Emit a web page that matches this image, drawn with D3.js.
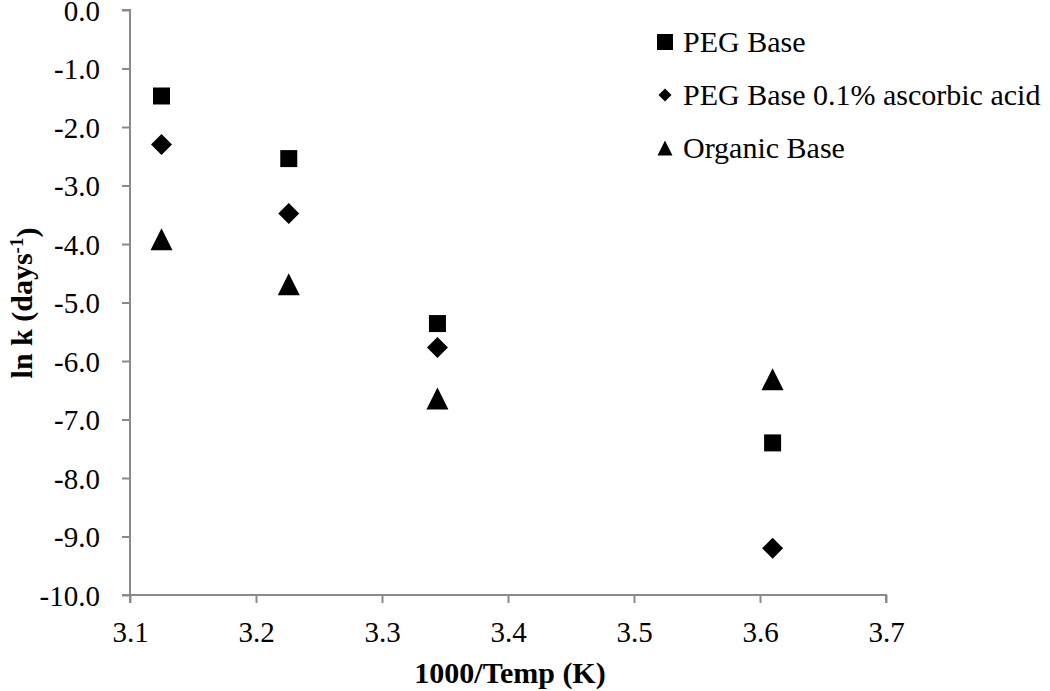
<!DOCTYPE html>
<html>
<head>
<meta charset="utf-8">
<script src="https://d3js.org/d3.v7.min.js"></script>
<style>
  body { margin:0; background:#fff; }
</style>
</head>
<body>
<svg id="chart" width="1050" height="691"></svg>
<script>
// data
var invTemp = [3.125, 3.226, 3.344, 3.610];
var pegBase = [-1.47, -2.54, -5.36, -7.40];
var pegAscorbic = [-2.30, -3.48, -5.77, -9.20];
var organicBase = [-3.92, -4.69, -6.64, -6.31];
var seriesNames = ["PEG Base", "PEG Base 0.1% ascorbic acid", "Organic Base"];
var xTicks = [3.1, 3.2, 3.3, 3.4, 3.5, 3.6, 3.7];
var yTicks = [0, -1, -2, -3, -4, -5, -6, -7, -8, -9, -10];

var svg = d3.select("#chart");
var x = d3.scaleLinear().domain([3.1, 3.7]).range([130, 886]);
var y = d3.scaleLinear().domain([-10, 0]).range([595, 10]);
var axisColor = "#8a8a8a";
var serif = "Liberation Serif";
var fmt = function(d) { return d.toFixed(1); };

// marker shapes centred on their box
function shape(type, s) {
  var h = s / 2;
  if (type == "square") return "M" + (-h) + "," + (-h) + "h" + s + "v" + s + "h" + (-s) + "Z";
  if (type == "diamond") return "M0," + (-h) + "L" + h + ",0L0," + h + "L" + (-h) + ",0Z";
  return "M0," + (-h) + "L" + h + "," + h + "L" + (-h) + "," + h + "Z";
}
var types = ["square", "diamond", "triangle"];
var sizes = [17, 21, 22];
var legendSizes = [16, 13, 15];

// y axis
var yAxis = svg.append("g").attr("transform", "translate(130,0)")
  .call(d3.axisLeft(y).tickValues(yTicks).tickSize(8).tickPadding(22).tickFormat(fmt));
// x axis
var xAxis = svg.append("g").attr("transform", "translate(0,595)")
  .call(d3.axisBottom(x).tickValues(xTicks).tickSize(8).tickPadding(19).tickFormat(fmt));

[xAxis, yAxis].forEach(function(a) {
  a.attr("font-family", serif).attr("font-size", 29);
  a.selectAll("path, line").attr("stroke", axisColor).attr("stroke-width", 2);
  a.selectAll("text").attr("fill", "#000");
});
xAxis.select(".domain").attr("d", "M130,8V0H886V8");
yAxis.select(".domain").attr("d", "M-8,10H0V595H-8");
xAxis.selectAll("text").attr("dy", "0.7em");
yAxis.selectAll("text").attr("dy", "0.36em");

// points
var series = [pegBase, pegAscorbic, organicBase];
series.forEach(function(vals, i) {
  svg.append("g").selectAll("path").data(vals).enter().append("path")
    .attr("d", shape(types[i], sizes[i]))
    .attr("transform", function(d, j) { return "translate(" + x(invTemp[j]) + "," + y(d) + ")"; })
    .attr("fill", "#000");
});

// legend
var legend = svg.append("g").attr("transform", "translate(665,0)")
  .attr("font-family", serif).attr("font-size", 30);
seriesNames.forEach(function(name, i) {
  var cy = 42 + i * 53;
  legend.append("path").attr("d", shape(types[i], legendSizes[i]))
    .attr("transform", "translate(0," + cy + ")").attr("fill", "#000");
  legend.append("text").attr("x", 18).attr("y", cy + 10).text(name);
});

// axis titles
svg.append("text").attr("x", 510).attr("y", 683)
  .attr("font-family", serif).attr("font-size", 30).attr("font-weight", "bold")
  .attr("text-anchor", "middle")
  .text("1000/Temp (K)");
var yt = svg.append("text")
  .attr("transform", "translate(32,303) rotate(-90)")
  .attr("font-family", serif).attr("font-size", 30).attr("font-weight", "bold")
  .attr("text-anchor", "middle");
yt.append("tspan").text("ln k (days");
yt.append("tspan").attr("dy", "-0.45em").attr("font-size", 19).text("-1");
yt.append("tspan").attr("dy", "0.45em").text(")");
</script>
</body>
</html>
